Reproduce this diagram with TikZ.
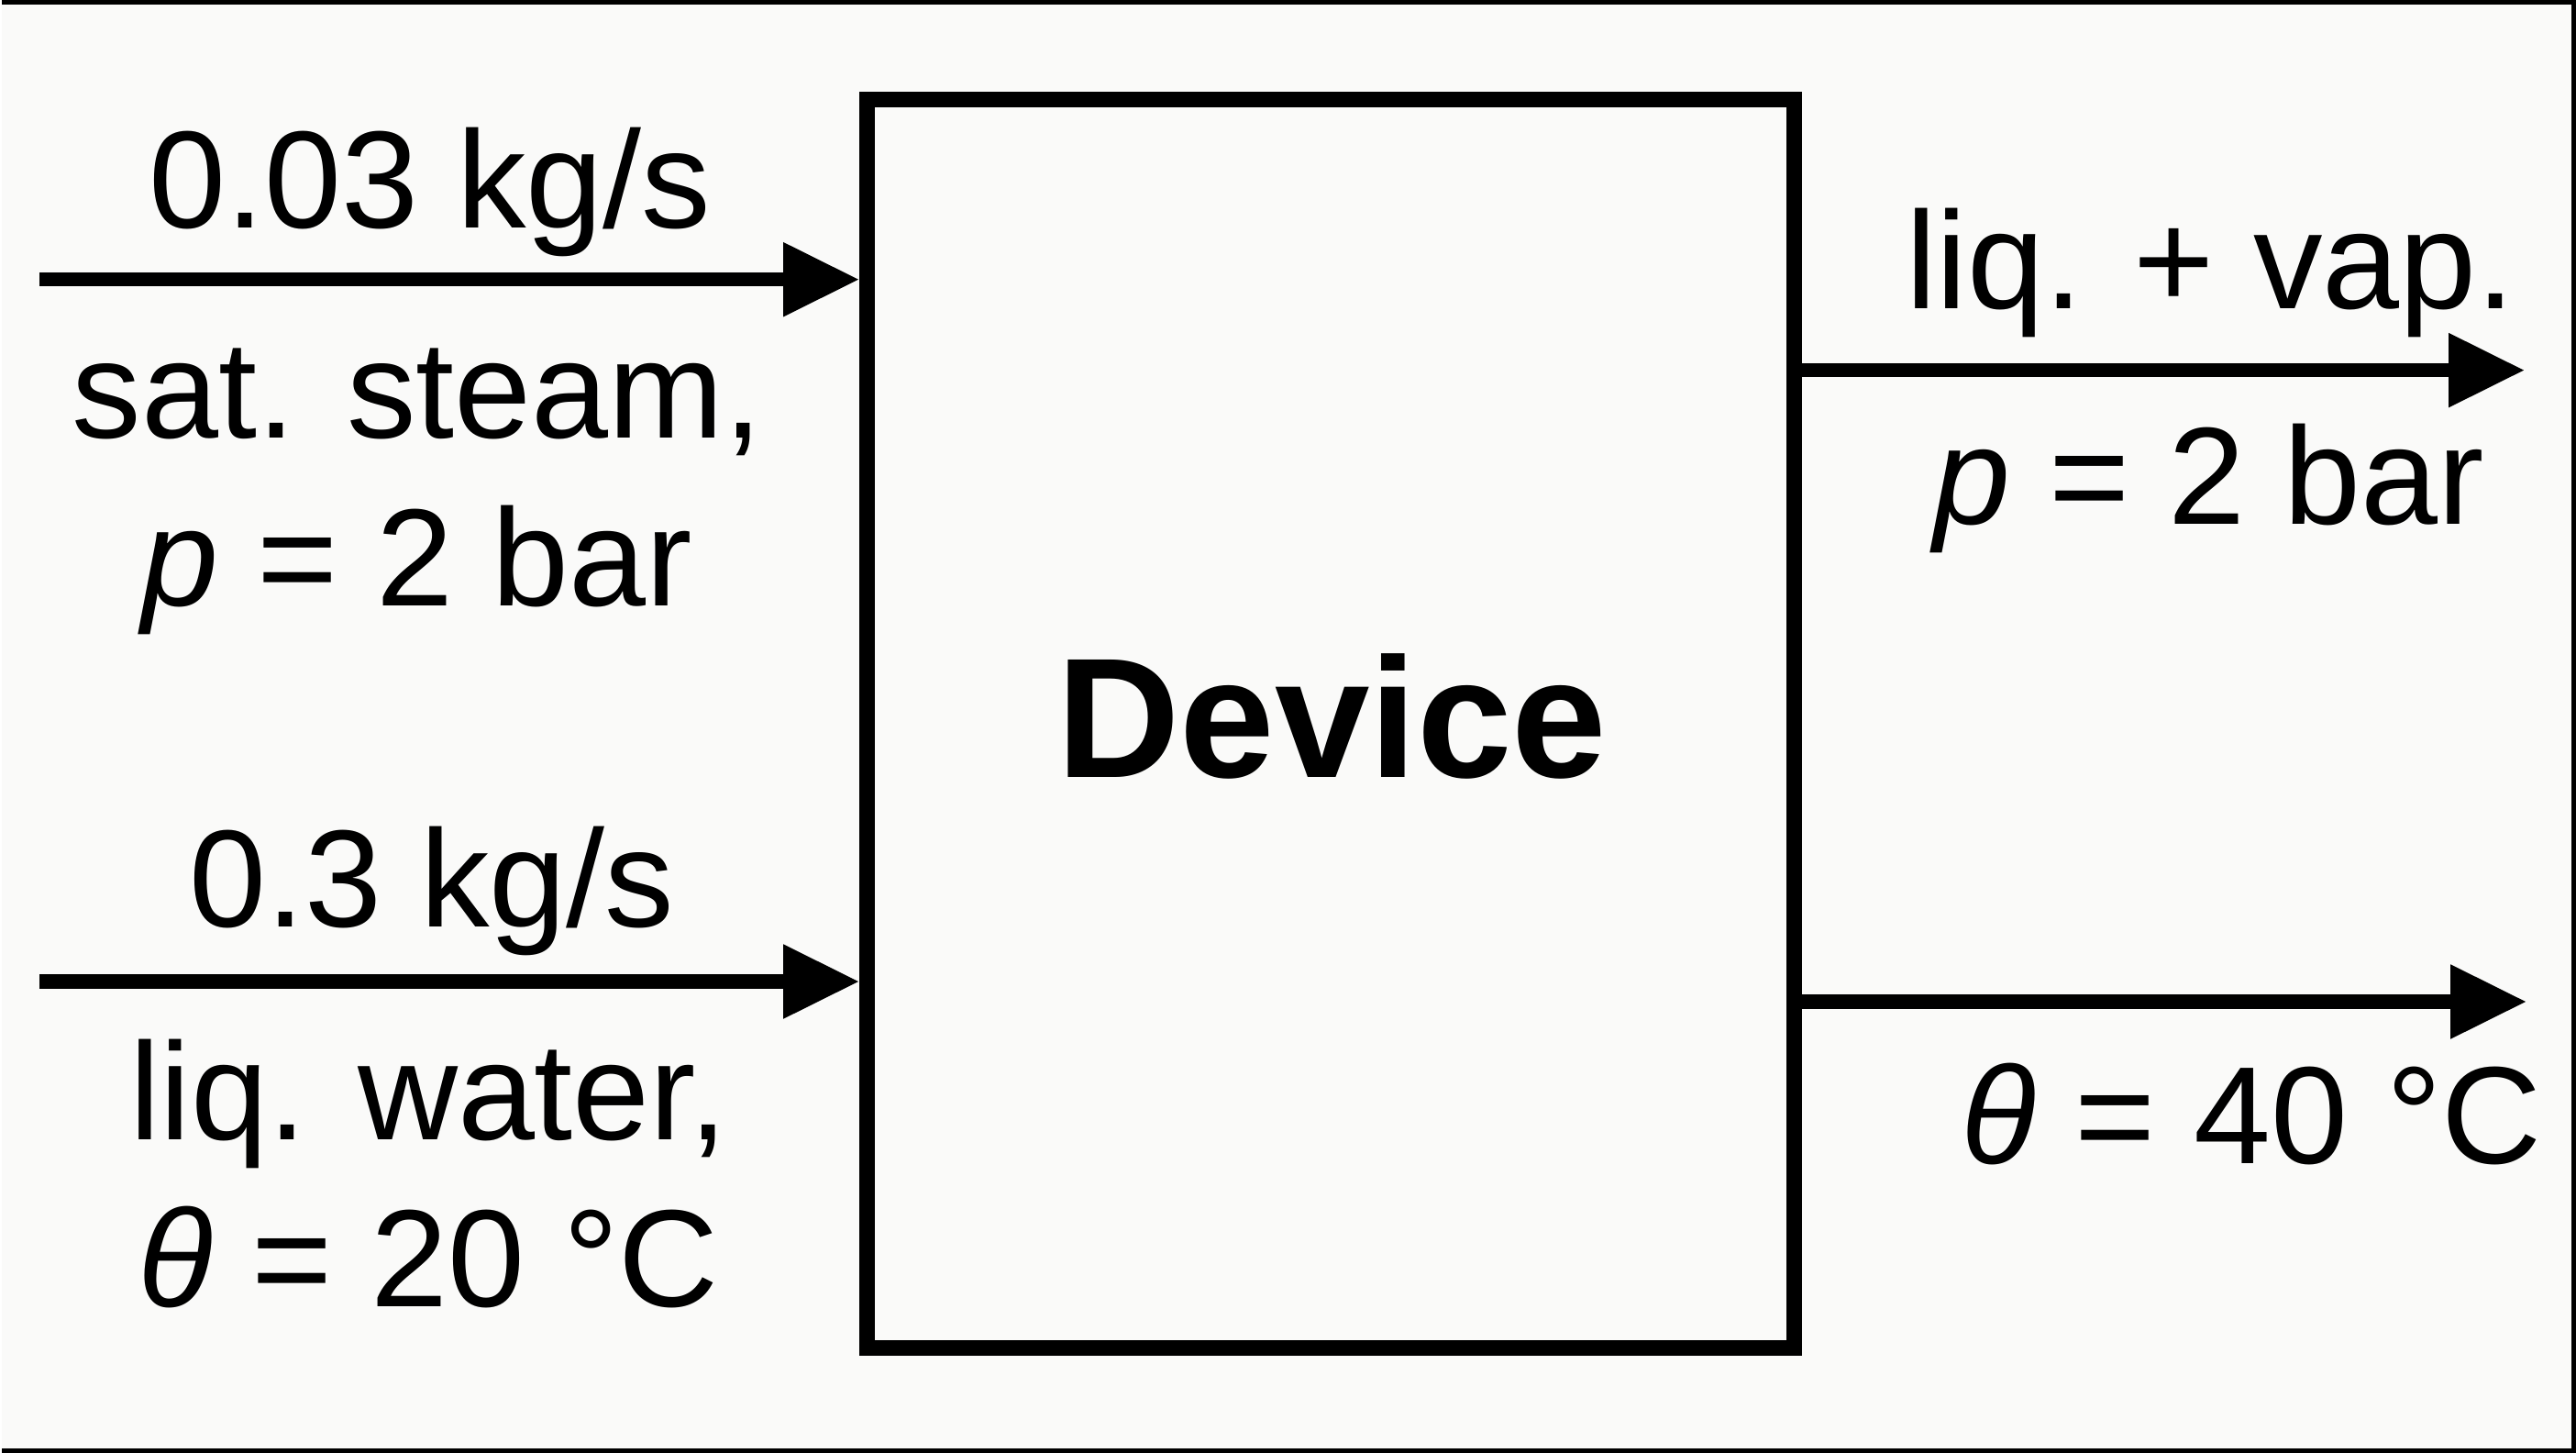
\documentclass[tikz,border=0pt]{standalone}
\usepackage{fontspec}
\setmainfont{Liberation Sans}
\usetikzlibrary{arrows.meta,positioning,calc}
\definecolor{paperBg}{HTML}{FAFAF9}
\tikzset{
  caja/.style={draw=black, line width=4.9pt, minimum width=10.12cm, minimum height=13.62cm},
  etiq/.style={font=\fontsize{43}{52}\selectfont, align=center, inner sep=0pt, anchor=base},
  titulo/.style={font=\fontsize{53}{60}\selectfont\bfseries, inner sep=0pt},
  arrflow/.style={-{Triangle[length=8.3mm, width=7.7mm]}, line width=4.4pt},
}

\begin{document}
\begin{tikzpicture}
\fill[paperBg] (0,0) rectangle (28.09,15.85);
\draw[line width=0.05cm] (0,15.825) -- (28.065,15.825) -- (28.065,0.025) -- (0,0.025);
\useasboundingbox (0,0) rectangle (28.09,15.85);

\node[caja] (dev) at (14.50,7.95) {};
\node[titulo] (devlbl) at ($(dev.center)+(0.01,0.08)$) {Device};

% inlets
\coordinate (in1) at (0.41,12.80);
\coordinate (in2) at (0.41,5.14);
\draw[arrflow] (in1) -- (in1 -| dev.west);
\draw[arrflow] (in2) -- (in2 -| dev.west);

\node[etiq] (m1) at (4.67,13.36) {0.03 kg/s};
\node[etiq] (st1) at (4.53,9.24) {sat. steam,\\\textit{p} = 2 bar};
\node[etiq] (m2) at (4.69,5.74) {0.3 kg/s};
\node[etiq] (st2) at (4.65,1.59) {liq. water,\\\textit{θ} = 20 °C};

% outlets
\coordinate (out1) at (27.53,11.81);
\coordinate (out2) at (27.55,4.92);
\draw[arrflow] (dev.east |- out1) -- (out1);
\draw[arrflow] (dev.east |- out2) -- (out2);

\node[etiq] (st3) at (24.10,12.48) {liq. + vap.};
\node[etiq] (st4) at (24.08,10.13) {\textit{p} = 2 bar};
\node[etiq] (st5) at (24.55,3.15) {\textit{θ} = 40 °C};
\end{tikzpicture}
\end{document}
